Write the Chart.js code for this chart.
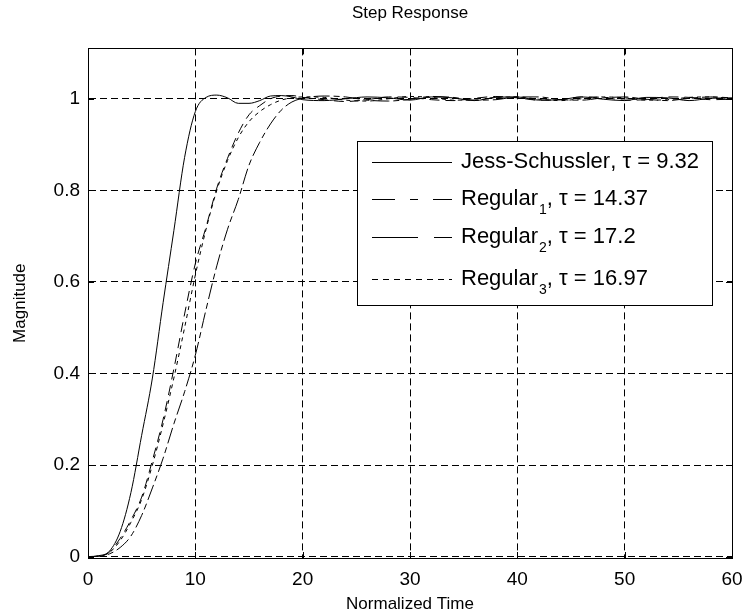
<!DOCTYPE html>
<html>
<head>
<meta charset="utf-8">
<script src="https://cdn.jsdelivr.net/npm/chart.js@4/dist/chart.umd.min.js"></script>
<style>
  html, body { margin: 0; padding: 0; background: #fff; }
</style>
</head>
<body>
<canvas id="stepChart" width="744" height="616"></canvas>
<script>
var times = [0,1,2,3,4,5,6,7,8,9,10,11,12,13,14,15,16,17,18,19,20,
             22,24,26,28,30,32,34,36,38,40,42,44,46,48,50,52,54,56,58,60];

var jess = [0,0.002,0.012,0.055,0.14,0.265,0.39,0.555,0.712,0.872,0.972,1.003,1.008,1.002,0.99,0.99,0.996,1.006,1.007,1.004,0.998,
            0.996,1.0,1.004,1.002,0.997,1.004,1.002,0.996,1.003,1.004,0.997,0.998,1.004,0.999,0.996,1.003,1.002,0.996,1.001,1.002];
var regular1 = [0,0.001,0.01,0.04,0.08,0.13,0.21,0.3,0.41,0.53,0.64,0.72,0.805,0.87,0.925,0.965,0.985,1.0,1.006,1.007,1.003,
                0.998,0.994,0.998,1.004,1.003,0.998,0.996,1.001,1.005,1.002,0.997,0.998,1.004,1.003,0.997,0.998,1.004,1.003,0.998,0.999];
var regular2 = [0,0.001,0.006,0.02,0.045,0.09,0.15,0.215,0.29,0.36,0.44,0.54,0.635,0.715,0.78,0.855,0.905,0.945,0.975,0.993,1.001,
                1.006,1.004,0.997,0.995,0.999,1.005,1.003,0.997,0.998,1.004,1.004,0.998,0.997,1.002,1.004,0.999,0.996,1.001,1.004,1.002];
var regular3 = [0,0.001,0.009,0.035,0.075,0.125,0.2,0.29,0.39,0.5,0.615,0.715,0.8,0.865,0.915,0.95,0.972,0.987,0.997,1.002,1.004,
                1.003,0.997,0.995,1.0,1.005,1.003,0.997,0.997,1.003,1.004,0.999,0.996,1.0,1.004,1.002,0.997,0.998,1.003,1.004,1.0];

var xTicks = [0,10,20,30,40,50,60];
var yTicks = [0,0.2,0.4,0.6,0.8,1];
var yTickLabels = ['0','0.2','0.4','0.6','0.8','1'];

// legend rows: main text, subscript, rest
var legendRows = [
  { main: 'Jess-Schussler', sub: '', rest: ', \u03c4 = 9.32', dash: [] },
  { main: 'Regular', sub: '1', rest: ', \u03c4 = 14.37', dash: [23,15,8,15] },
  { main: 'Regular', sub: '2', rest: ', \u03c4 = 17.2', dash: [46,16,18,16] },
  { main: 'Regular', sub: '3', rest: ', \u03c4 = 16.97', dash: [6,5] }
];

var FONT = "'Liberation Sans', Arial, sans-serif";

function series(vals) {
  return vals.map(function (v, i) { return { x: times[i], y: v }; });
}

function makeSet(label, vals, dash) {
  return {
    label: label,
    data: series(vals),
    borderColor: '#000',
    borderWidth: 1,
    borderDash: dash,
    pointRadius: 0,
    fill: false,
    cubicInterpolationMode: 'monotone'
  };
}

var boxPlugin = {
  id: 'boxPlugin',
  afterDraw: function (chart) {
    var ctx = chart.ctx;
    var a = chart.chartArea;
    var xs = chart.scales.x, ys = chart.scales.y;
    ctx.save();
    ctx.strokeStyle = '#000';
    ctx.lineWidth = 1;
    ctx.setLineDash([]);
    // frame
    ctx.strokeRect(Math.round(a.left) + 0.5, Math.round(a.top) + 0.5,
                   Math.round(a.right - a.left), Math.round(a.bottom - a.top));
    // inward tick marks
    ctx.beginPath();
    xTicks.forEach(function (t) {
      var px = Math.round(xs.getPixelForValue(t)) + 0.5;
      ctx.moveTo(px, a.bottom); ctx.lineTo(px, a.bottom - 6);
      ctx.moveTo(px, a.top); ctx.lineTo(px, a.top + 6);
    });
    yTicks.forEach(function (t) {
      var py = Math.round(ys.getPixelForValue(t)) + 0.5;
      ctx.moveTo(a.left, py); ctx.lineTo(a.left + 6, py);
      ctx.moveTo(a.right, py); ctx.lineTo(a.right - 6, py);
    });
    ctx.stroke();

    // legend box
    var bx = 357, by = 141, bw = 355, bh = 164;
    ctx.fillStyle = '#fff';
    ctx.fillRect(bx, by, bw, bh);
    ctx.strokeRect(bx + 0.5, by + 0.5, bw, bh);

    var rowY = [162, 199, 237, 279];
    ctx.fillStyle = '#000';
    ctx.textBaseline = 'middle';
    ctx.textAlign = 'left';
    legendRows.forEach(function (r, i) {
      var y = rowY[i];
      ctx.beginPath();
      ctx.setLineDash(r.dash);
      ctx.moveTo(372, Math.round(y) + 0.5);
      ctx.lineTo(452, Math.round(y) + 0.5);
      ctx.stroke();
      ctx.setLineDash([]);
      var x = 461;
      ctx.font = '22px ' + FONT;
      ctx.fillText(r.main, x, y);
      x += ctx.measureText(r.main).width;
      if (r.sub) {
        ctx.font = '14px ' + FONT;
        ctx.fillText(r.sub, x + 1, y + 11);
        x += ctx.measureText(r.sub).width + 1;
      }
      ctx.font = '22px ' + FONT;
      ctx.fillText(r.rest, x, y);
    });
    ctx.restore();
  }
};

var config = {
  type: 'line',
  data: {
    datasets: [
      makeSet('Jess-Schussler', jess, []),
      makeSet('Regular1', regular1, [10,6]),
      makeSet('Regular2', regular2, [16,4,6,4]),
      makeSet('Regular3', regular3, [4,4])
    ]
  },
  options: {
    responsive: false,
    animation: false,
    layout: { padding: { top: 0, right: 12, left: 0, bottom: 0 } },
    plugins: {
      legend: { display: false },
      tooltip: { enabled: false },
      title: {
        display: true,
        fullSize: false,
        text: 'Step Response',
        color: '#000',
        font: { family: FONT, size: 17, weight: 'normal' },
        padding: { top: 3, bottom: 25 }
      }
    },
    scales: {
      x: {
        type: 'linear',
        min: 0,
        max: 60,
        afterBuildTicks: function (s) { s.ticks = xTicks.map(function (v) { return { value: v }; }); },
        afterFit: function (s) { s.height = 58; s.paddingLeft = 0; s.paddingRight = 0; },
        grid: { color: '#000', lineWidth: 1, drawTicks: false },
        border: { display: true, color: '#000', dash: [7,4] },
        ticks: { color: '#000', font: { family: FONT, size: 19 }, padding: 10, maxRotation: 0 },
        title: {
          display: true, text: 'Normalized Time', color: '#000',
          font: { family: FONT, size: 17 }, padding: { top: 0, bottom: 1 }
        }
      },
      y: {
        type: 'linear',
        min: -0.003,
        max: 1.11,
        afterBuildTicks: function (s) { s.ticks = yTicks.map(function (v) { return { value: v }; }); },
        afterFit: function (s) { s.width = 88; s.paddingTop = 0; s.paddingBottom = 0; },
        grid: { color: '#000', lineWidth: 1, drawTicks: false },
        border: { display: true, color: '#000', dash: [7,4] },
        ticks: {
          color: '#000', font: { family: FONT, size: 19 }, padding: 8,
          callback: function (value, index) { return yTickLabels[index]; }
        },
        title: {
          display: true, text: 'Magnitude', color: '#000',
          font: { family: FONT, size: 17 }, padding: { top: 10, bottom: 0 }
        }
      }
    }
  },
  plugins: [boxPlugin]
};

var chart = new Chart(document.getElementById('stepChart'), config);
</script>
</body>
</html>
